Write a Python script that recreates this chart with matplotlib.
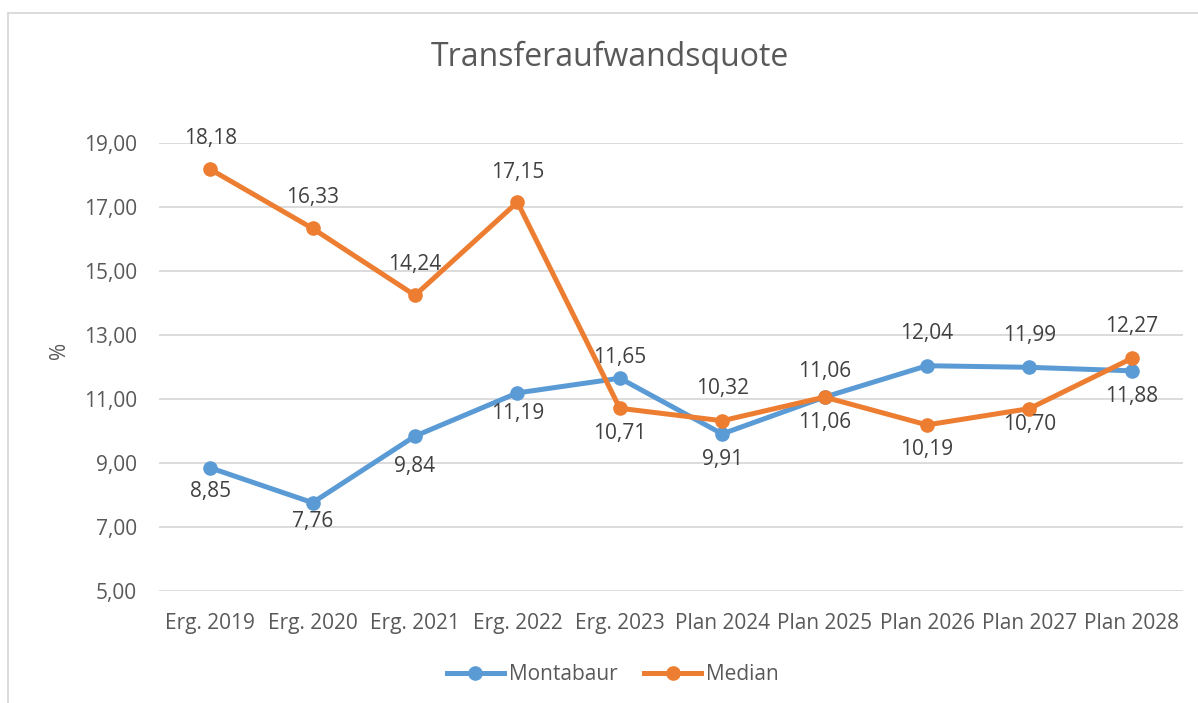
import matplotlib.pyplot as plt
from matplotlib.lines import Line2D

plt.rcParams['font.family'] = ['Open Sans', 'DejaVu Sans']

categories = ['Erg. 2019', 'Erg. 2020', 'Erg. 2021', 'Erg. 2022', 'Erg. 2023',
              'Plan 2024', 'Plan 2025', 'Plan 2026', 'Plan 2027', 'Plan 2028']
montabaur = [8.85, 7.76, 9.84, 11.19, 11.65, 9.91, 11.06, 12.04, 11.99, 11.88]
median = [18.18, 16.33, 14.24, 17.15, 10.71, 10.32, 11.06, 10.19, 10.70, 12.27]

# label offsets in pixels (positive = below the point), as in the original
montabaur_off = [24, 19, 30, 21, -21, 26, -26, -32, -32, 26]
median_off = [-31, -31, -31, -30, 25, -32, 25, 25, 16, -32]

blue = '#5B9BD5'
orange = '#ED7D31'
tick_col = '#595959'
label_col = '#404040'
fs = 15

W, H = 1198, 703
fig = plt.figure(figsize=(W / 100, H / 100), dpi=100)
ax = fig.add_axes([159 / W, 1 - 591 / H, (1183 - 159) / W, (591 - 143) / H])

x = list(range(len(categories)))
ax.plot(x, montabaur, color=blue, lw=3.6, marker='o', ms=9.5, solid_capstyle='round',
        solid_joinstyle='round', zorder=3)
ax.plot(x, median, color=orange, lw=3.6, marker='o', ms=9.5, solid_capstyle='round',
        solid_joinstyle='round', zorder=3)


def fmt(v):
    return f'{v:.2f}'.replace('.', ',')


for vals, offs in ((montabaur, montabaur_off), (median, median_off)):
    for xi, v, off in zip(x, vals, offs):
        ax.annotate(fmt(v), (xi, v), xytext=(0, -off * 0.72),
                    textcoords='offset points', ha='center', va='center',
                    fontsize=fs, color=label_col, annotation_clip=False)

ax.set_xlim(-0.5, len(categories) - 0.5)
ax.set_ylim(5, 19)
yt = [5, 7, 9, 11, 13, 15, 17, 19]
ax.set_yticks(yt)
ax.set_yticklabels([fmt(v) for v in yt])
ax.set_xticks(x)
ax.set_xticklabels(categories)
ax.tick_params(length=0, labelsize=fs, colors=tick_col)
ax.tick_params(axis='x', pad=16)
ax.tick_params(axis='y', pad=16)
ax.grid(axis='y', color='#D9D9D9', lw=1.3)
ax.set_axisbelow(True)
for s in ax.spines.values():
    s.set_visible(False)

fig.text(60 / W, 1 - 350 / H, '%', rotation=90, ha='center', va='center',
         fontsize=fs, color=tick_col)
fig.text(610 / W, 1 - 57 / H, 'Transferaufwandsquote',
         ha='center', va='center', fontsize=23, color=tick_col)

handles = [Line2D([], [], color=blue, lw=3.6, marker='o', ms=9.5),
           Line2D([], [], color=orange, lw=3.6, marker='o', ms=9.5)]
fig.legend(handles, ['Montabaur', 'Median'], loc='center', bbox_to_anchor=(613 / W, 1 - 675 / H),
           ncol=2, frameon=False, fontsize=fs, labelcolor=tick_col,
           handlelength=2.7, handletextpad=0.25, columnspacing=1.3)

# outer chart border (left and top visible)
fig.add_artist(Line2D([8 / W, 8 / W], [0, 1 - 13 / H], color='#D9D9D9', lw=1.3,
                      transform=fig.transFigure))
fig.add_artist(Line2D([8 / W, 1], [1 - 13 / H, 1 - 13 / H], color='#D9D9D9', lw=1.3,
                      transform=fig.transFigure))

fig.savefig('out.png', dpi=100)
